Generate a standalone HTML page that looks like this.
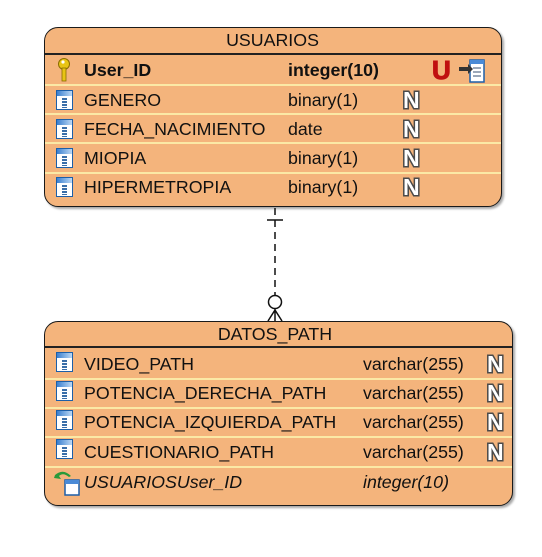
<!DOCTYPE html>
<html><head><meta charset="utf-8"><style>
body{margin:0;width:542px;height:557px;background:#fff;position:relative;font-family:"Liberation Sans",sans-serif;overflow:hidden}
.box{position:absolute;background:#f4b47c;border:1.5px solid #1a1a1a;border-radius:14px;box-shadow:2px 2px 2px rgba(0,0,0,.35);box-sizing:border-box}
.t{position:absolute;font-size:17.8px;color:#111;white-space:nowrap;line-height:19px}
.sep{position:absolute;height:2px;background:#fbe9a6}
.hl{position:absolute;height:1.5px;background:#222}
.ic{position:absolute;width:17px;height:20px;background:#fff;border:1.5px solid #1d5fa8;box-sizing:border-box}
.ic:before{content:"";position:absolute;left:0;top:0;right:0;height:5px;background:linear-gradient(90deg,#3a7fd0,#bcd8f4)}
.ic:after{content:"";position:absolute;left:5px;top:7px;width:5px;height:10px;background:repeating-linear-gradient(#3a6ea8 0 2px,transparent 2px 3px)}
.n{position:absolute;font:bold 23px "Liberation Sans",sans-serif;color:#fff;-webkit-text-stroke:3px #4a4a4a;paint-order:stroke fill;line-height:22px}
</style></head><body>
<div class="box" style="left:44px;top:27px;width:458px;height:180px"></div>
<div class="hl" style="left:45px;top:53px;width:456px"></div>
<div class="t" style="left:0;width:545px;text-align:center;top:31px">USUARIOS</div>
<div class="sep" style="left:45px;top:84px;width:456px"></div>
<div class="sep" style="left:45px;top:113px;width:456px"></div>
<div class="sep" style="left:45px;top:142px;width:456px"></div>
<div class="sep" style="left:45px;top:172px;width:456px"></div>
<svg style="position:absolute;left:57px;top:57px" width="14" height="26"><circle cx="7" cy="7" r="5.5" fill="#e8c414" stroke="#8a6d00"/><circle cx="6" cy="5" r="1.6" fill="#fff"/><rect x="5" y="11" width="4" height="13" fill="#e8c414" stroke="#8a6d00" stroke-width="0.8"/></svg>
<div class="t" style="left:84px;top:61px;font-weight:bold">User_ID</div>
<div class="t" style="left:288px;top:61px;font-weight:bold">integer(10)</div>
<div style="position:absolute;left:432px;top:57px;font:bold 26px 'Liberation Sans',sans-serif;color:#c01010;line-height:26px;-webkit-text-stroke:1px #c01010">U</div>
<svg style="position:absolute;left:459px;top:58px" width="28" height="26"><rect x="11" y="2" width="14" height="22" fill="#fff" stroke="#1d5fa8" stroke-width="1.5"/><rect x="11" y="2" width="14" height="4" fill="#4a8ad6"/><path d="M14 10h8M14 14h8M14 18h8" stroke="#7a8aa0" stroke-width="1.5"/><path d="M0 9h9v-3l5 5-5 5v-3H0z" fill="#333"/></svg>
<div class="ic" style="left:56px;top:90px"></div><div class="t" style="left:84px;top:91px">GENERO</div><div class="t" style="left:288px;top:91px">binary(1)</div><div class="n" style="left:403px;top:89px">N</div>
<div class="ic" style="left:56px;top:119px"></div><div class="t" style="left:84px;top:120px">FECHA_NACIMIENTO</div><div class="t" style="left:288px;top:120px">date</div><div class="n" style="left:403px;top:118px">N</div>
<div class="ic" style="left:56px;top:148px"></div><div class="t" style="left:84px;top:149px">MIOPIA</div><div class="t" style="left:288px;top:149px">binary(1)</div><div class="n" style="left:403px;top:147px">N</div>
<div class="ic" style="left:56px;top:177px"></div><div class="t" style="left:84px;top:178px">HIPERMETROPIA</div><div class="t" style="left:288px;top:178px">binary(1)</div><div class="n" style="left:403px;top:176px">N</div>

<svg style="position:absolute;left:0;top:0" width="542" height="557">
<line x1="275" y1="208" x2="275" y2="295" stroke="#111" stroke-width="1.5" stroke-dasharray="7 5"/>
<line x1="267" y1="220" x2="283" y2="220" stroke="#111" stroke-width="1.5"/>
<circle cx="275" cy="302" r="6.5" fill="#fff" stroke="#111" stroke-width="1.5"/>
<path d="M275 309V321M275 310L268 321M275 310L282 321" stroke="#111" stroke-width="1.5" fill="none"/>
</svg>

<div class="box" style="left:44px;top:321px;width:469px;height:185px"></div>
<div class="hl" style="left:45px;top:346px;width:467px"></div>
<div class="t" style="left:0;width:550px;text-align:center;top:325px">DATOS_PATH</div>
<div class="sep" style="left:45px;top:378px;width:467px"></div>
<div class="sep" style="left:45px;top:407px;width:467px"></div>
<div class="sep" style="left:45px;top:436px;width:467px"></div>
<div class="sep" style="left:45px;top:466px;width:467px"></div>
<div class="ic" style="left:56px;top:352px"></div><div class="t" style="left:84px;top:355px">VIDEO_PATH</div><div class="t" style="left:363px;top:355px">varchar(255)</div><div class="n" style="left:487px;top:353px">N</div>
<div class="ic" style="left:56px;top:381px"></div><div class="t" style="left:84px;top:384px">POTENCIA_DERECHA_PATH</div><div class="t" style="left:363px;top:384px">varchar(255)</div><div class="n" style="left:487px;top:382px">N</div>
<div class="ic" style="left:56px;top:410px"></div><div class="t" style="left:84px;top:413px">POTENCIA_IZQUIERDA_PATH</div><div class="t" style="left:363px;top:413px">varchar(255)</div><div class="n" style="left:487px;top:411px">N</div>
<div class="ic" style="left:56px;top:439px"></div><div class="t" style="left:84px;top:443px">CUESTIONARIO_PATH</div><div class="t" style="left:363px;top:443px">varchar(255)</div><div class="n" style="left:487px;top:441px">N</div>
<svg style="position:absolute;left:53px;top:468px" width="28" height="28"><path d="M2 7 Q10 0 18 8 L16 9 Q10 4 6 8 L8 11 L1 10z" fill="#2a9a3a"/><rect x="12" y="12" width="14" height="15" fill="#fff" stroke="#1d5fa8" stroke-width="1.5"/><rect x="12" y="12" width="14" height="4" fill="#4a8ad6"/></svg>
<div class="t" style="left:84px;top:473px;font-style:italic">USUARIOSUser_ID</div><div class="t" style="left:363px;top:473px;font-style:italic">integer(10)</div>
</body></html>
